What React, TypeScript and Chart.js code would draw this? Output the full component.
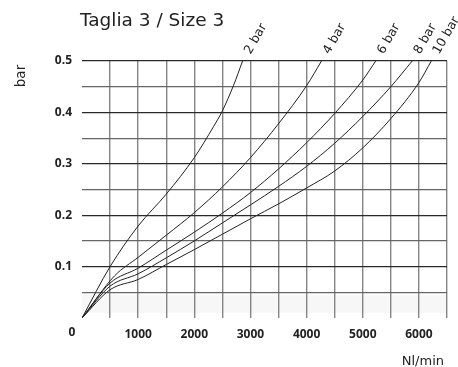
import React, { useEffect, useRef } from 'react';
import { Chart, registerables } from 'chart.js';

Chart.register(...registerables);

const titleText = 'Taglia 3 / Size 3';
const yAxisTitle = 'bar';
const xAxisTitle = 'Nl/min';
const seriesLabels = ['2 bar', '4 bar', '6 bar', '8 bar', '10 bar'];

const flow2 = [0, 500, 1000, 1500, 2000, 2340, 2500, 2700, 2860];
const drop2 = [0, 0.1, 0.179, 0.241, 0.312, 0.372, 0.403, 0.453, 0.5];

const flow4 = [0, 580, 1000, 1500, 2000, 2500, 3000, 3500, 4000, 4265];
const drop4 = [0, 0.082, 0.118, 0.161, 0.205, 0.255, 0.312, 0.378, 0.452, 0.5];

const flow6 = [0, 500, 1000, 1500, 2000, 2500, 3000, 3500, 4000, 4500, 5000, 5230];
const drop6 = [0, 0.068, 0.097, 0.132, 0.167, 0.204, 0.244, 0.29, 0.341, 0.398, 0.463, 0.5];

const flow8 = [0, 500, 1000, 1500, 2000, 2500, 3000, 3500, 4000, 4500, 5000, 5500, 5880];
const drop8 = [0, 0.062, 0.086, 0.117, 0.15, 0.185, 0.22, 0.256, 0.295, 0.34, 0.392, 0.45, 0.5];

const flow10 = [0, 500, 1000, 1500, 2000, 2500, 3000, 3500, 4000, 4500, 5000, 5500, 6000, 6220];
const drop10 = [0, 0.055, 0.075, 0.104, 0.133, 0.163, 0.193, 0.222, 0.253, 0.286, 0.331, 0.388, 0.458, 0.5];

const flows = [flow2, flow4, flow6, flow8, flow10];
const drops = [drop2, drop4, drop6, drop8, drop10];

const xMin = 0;
const xMax = 6500;
const xStep = 500;
const xLabelStep = 1000;
const yMin = 0;
const yMax = 0.5;
const yStep = 0.05;
const bandLow = 0.01;
const bandHigh = 0.045;

const TICK_FONT = "'Open Sans', 'DejaVu Sans', sans-serif";
const TEXT_FONT = "'DejaVu Sans', sans-serif";

const annotate = {
  id: 'annotate',
  beforeDraw(chart: any) {
    const { ctx, chartArea, scales } = chart;
    const y1 = scales.y.getPixelForValue(bandHigh);
    const y2 = scales.y.getPixelForValue(bandLow);
    ctx.save();
    ctx.fillStyle = '#f7f7f7';
    ctx.fillRect(chartArea.left, y1, chartArea.right - chartArea.left, y2 - y1);
    ctx.restore();
  },
  afterDraw(chart: any) {
    const { ctx, scales } = chart;
    ctx.save();
    ctx.fillStyle = '#222';
    ctx.font = `18.5px ${TEXT_FONT}`;
    ctx.textAlign = 'left';
    ctx.textBaseline = 'alphabetic';
    ctx.fillText(titleText, 80, 26);
    ctx.save();
    ctx.font = `13.5px ${TEXT_FONT}`;
    ctx.translate(21, 76);
    ctx.rotate(-Math.PI / 2);
    ctx.textAlign = 'center';
    ctx.textBaseline = 'middle';
    ctx.fillText(yAxisTitle, 0, 0);
    ctx.restore();
    ctx.font = `13px ${TEXT_FONT}`;
    ctx.textAlign = 'right';
    ctx.textBaseline = 'alphabetic';
    ctx.fillText(xAxisTitle, 444, 365);
    ctx.font = `bold 12px ${TICK_FONT}`;
    ctx.textAlign = 'center';
    ctx.textBaseline = 'middle';
    ctx.fillText('0', scales.x.getPixelForValue(0) - 10, 333);
    ctx.font = `12.5px ${TEXT_FONT}`;
    ctx.textAlign = 'left';
    ctx.textBaseline = 'middle';
    chart.data.datasets.forEach((ds: any, i: number) => {
      const last = ds.data[ds.data.length - 1];
      const px = scales.x.getPixelForValue(last.x);
      const py = scales.y.getPixelForValue(last.y);
      ctx.save();
      ctx.translate(px + 5, py - 8);
      ctx.rotate(-Math.PI / 3);
      ctx.fillText(seriesLabels[i], 0, 0);
      ctx.restore();
    });
    ctx.restore();
  },
};

export default function App() {
  const ref = useRef<HTMLCanvasElement | null>(null);
  useEffect(() => {
    document.body.style.margin = '0';
    if (!ref.current) return;
    const datasets = flows.map((fx, i) => ({
      label: seriesLabels[i],
      data: fx.map((x, j) => ({ x, y: drops[i][j] })),
      showLine: true,
      borderColor: '#222',
      borderWidth: 1,
      pointRadius: 0,
      fill: false,
      cubicInterpolationMode: 'monotone' as const,
    }));
    const chart = new Chart(ref.current, {
      type: 'scatter',
      data: { datasets },
      options: {
        animation: false,
        responsive: true,
        maintainAspectRatio: false,
        layout: { padding: { left: 0, right: 11, top: 61, bottom: 0 } },
        plugins: { legend: { display: false }, tooltip: { enabled: false } },
        scales: {
          x: {
            type: 'linear',
            min: xMin,
            max: xMax,
            border: { display: false },
            afterFit: (s: any) => { s.height = 49; },
            grid: {
              drawTicks: false,
              lineWidth: 1.4,
              color: (c: any) => (c.tick && c.tick.value === 0 ? 'rgba(0,0,0,0)' : '#858585'),
            },
            ticks: {
              stepSize: xStep,
              autoSkip: false,
              maxRotation: 0,
              maxTicksLimit: 30,
              padding: 9,
              color: '#222',
              font: { family: TICK_FONT, size: 12, weight: 'bold' },
              callback: (v: any) => (v > 0 && v % xLabelStep === 0 && v < xMax ? String(v) : ''),
            },
          },
          y: {
            type: 'linear',
            min: yMin,
            max: yMax,
            border: { display: false },
            afterFit: (s: any) => { s.width = 82; },
            grid: {
              drawTicks: false,
              lineWidth: 1.2,
              color: (c: any) => {
                const k = Math.round((c.tick ? c.tick.value : 0) / yStep);
                if (k === 0) return 'rgba(0,0,0,0)';
                return k % 2 === 0 ? '#2a2a2a' : '#666';
              },
            },
            ticks: {
              stepSize: yStep,
              autoSkip: false,
              maxTicksLimit: 30,
              padding: 10,
              color: '#222',
              font: { family: TICK_FONT, size: 12, weight: 'bold' },
              callback: (v: any) => {
                const k = Math.round(v / yStep);
                return k > 0 && k % 2 === 0 ? (k * yStep).toFixed(1) : '';
              },
            },
          },
        },
      },
      plugins: [annotate],
    });
    return () => chart.destroy();
  }, []);
  return (
    <div style={{ position: 'relative', width: '458px', height: '367px', background: '#fff' }}>
      <canvas ref={ref} />
    </div>
  );
}
